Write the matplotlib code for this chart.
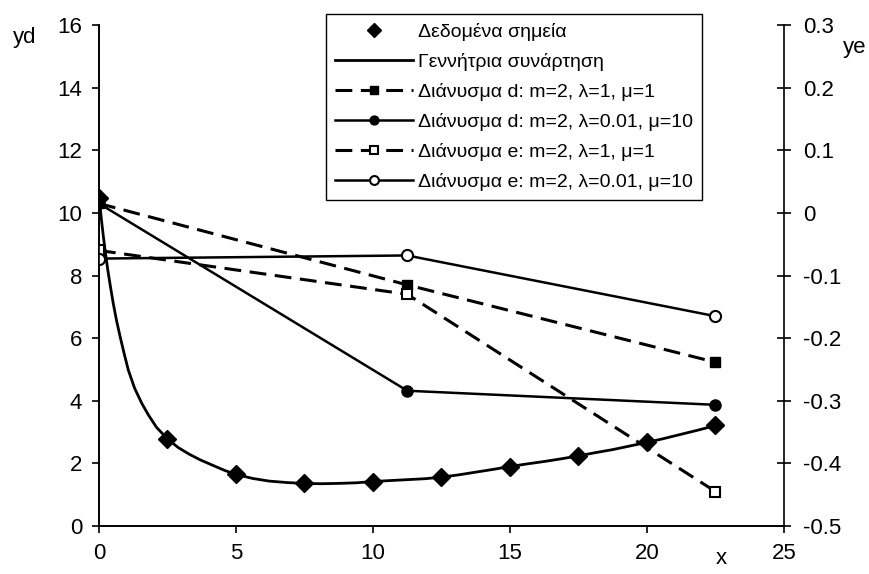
import matplotlib
matplotlib.use("Agg")
import matplotlib.pyplot as plt

plt.rcParams['font.family'] = ['Liberation Sans', 'DejaVu Sans']
plt.rcParams['axes.unicode_minus'] = False

# ---- data ----
data_x = [0, 2.5, 5, 7.5, 10, 12.5, 15, 17.5, 20, 22.5]
data_y = [10.47, 2.78, 1.65, 1.36, 1.42, 1.56, 1.90, 2.24, 2.67, 3.21]

gen_x = [0, 0.03, 0.08, 0.16, 0.24, 0.32, 0.42, 0.52, 0.64, 0.77, 0.92, 1.07,
         1.3, 1.56, 1.8, 2.1, 2.5, 2.9, 3.3, 3.7, 4.2, 4.6, 5.0, 5.6, 6.2,
         6.9, 7.5, 8.1, 8.7, 9.4, 10, 10.6, 11.25, 11.9, 12.5, 13.1, 13.75,
         14.4, 15, 15.6, 16.25, 16.9, 17.5, 18.1, 18.75, 19.4, 20, 20.6,
         21.25, 21.9, 22.5]
gen_y = [10.47, 10.3, 9.85, 9.24, 8.7, 8.18, 7.63, 7.11, 6.56, 6.05, 5.5, 4.98,
         4.4, 3.92, 3.55, 3.15, 2.78, 2.50, 2.29, 2.11, 1.92, 1.77, 1.65, 1.52,
         1.435, 1.385, 1.36, 1.35, 1.36, 1.38, 1.42, 1.45, 1.48, 1.51, 1.56,
         1.63, 1.72, 1.81, 1.90, 1.98, 2.06, 2.15, 2.24, 2.34, 2.44, 2.56,
         2.67, 2.79, 2.93, 3.07, 3.21]

vec_x = [0, 11.25, 22.5]
d_l1_m1 = [10.3, 7.70, 5.23]
d_l001_m10 = [10.3, 4.32, 3.87]
e_l1_m1 = [-0.06, -0.13, -0.445]
e_l001_m10 = [-0.073, -0.068, -0.165]

x_ticks = [0, 5, 10, 15, 20, 25]
yd_ticks = [0, 2, 4, 6, 8, 10, 12, 14, 16]
ye_ticks = [-0.5, -0.4, -0.3, -0.2, -0.1, 0, 0.1, 0.2, 0.3]
ye_labels = ['-0.5', '-0.4', '-0.3', '-0.2', '-0.1', '0', '0.1', '0.2', '0.3']

labels = ['Δεδομένα σημεία', 'Γεννήτρια συνάρτηση',
          'Διάνυσμα d: m=2, λ=1, μ=1', 'Διάνυσμα d: m=2, λ=0.01, μ=10',
          'Διάνυσμα e: m=2, λ=1, μ=1', 'Διάνυσμα e: m=2, λ=0.01, μ=10']

# ---- figure ----
fig = plt.figure(figsize=(8.7, 5.74), dpi=100)
ax = fig.add_axes([99/870, 48/574, 685/870, 501/574])
ax2 = ax.twinx()

dash = (0, (5.5, 2.8))
lw_dash = 2.2
lw = 1.8

h_gen, = ax.plot(gen_x, gen_y, color='black', lw=2.0, zorder=3,
                 solid_joinstyle='round')
h_data, = ax.plot(data_x, data_y, linestyle='none', marker='D', ms=9.5,
                  color='black', zorder=4)
h_d1, = ax.plot(vec_x, d_l1_m1, linestyle=dash, lw=lw_dash, color='black',
                marker='s', ms=7.5, mfc='black')
h_d2, = ax.plot(vec_x, d_l001_m10, linestyle='-', lw=lw, color='black',
                marker='o', ms=8, mfc='black')
h_e1, = ax2.plot(vec_x, e_l1_m1, linestyle=dash, lw=lw_dash, color='black',
                 marker='s', ms=7, mfc='white', mew=1.5)
h_e2, = ax2.plot(vec_x, e_l001_m10, linestyle='-', lw=lw, color='black',
                 marker='o', ms=8, mfc='white', mew=1.5)

ax.set_xlim(0, 25)
ax.set_ylim(0, 16)
ax2.set_ylim(-0.5, 0.3)
ax.set_xticks(x_ticks)
ax.set_yticks(yd_ticks)
ax2.set_yticks(ye_ticks)
ax2.set_yticklabels(ye_labels)

for a in (ax, ax2):
    a.spines['top'].set_visible(False)
    for s in a.spines.values():
        s.set_linewidth(1.2)
ax.spines['right'].set_visible(False)

ax.tick_params(axis='both', direction='out', length=5, width=1.2,
               labelsize=16, pad=7)
ax2.tick_params(axis='y', direction='inout', length=10, width=1.2,
                labelsize=16, pad=9)

fig.text(25/870, 1 - 38/574, 'yd', fontsize=16, ha='center', va='center')
fig.text(855/870, 1 - 47/574, 'ye', fontsize=16, ha='center', va='center')
fig.text(721/870, 1 - 558/574, 'x', fontsize=16, ha='center', va='center')

handles = [h_data, h_gen, h_d1, h_d2, h_e1, h_e2]
leg = ax.legend(handles, labels, loc='upper left',
                bbox_to_anchor=(326/870, 1 - 14/574),
                bbox_transform=fig.transFigure, borderaxespad=0,
                fontsize=14, handlelength=4.0, handletextpad=0.3,
                labelspacing=0.62, borderpad=0.45, fancybox=False,
                framealpha=1, edgecolor='black', markerscale=0.8)
leg.get_frame().set_linewidth(1.0)
leg.set_zorder(10)

fig.savefig('out.png', dpi=100, facecolor='white')
